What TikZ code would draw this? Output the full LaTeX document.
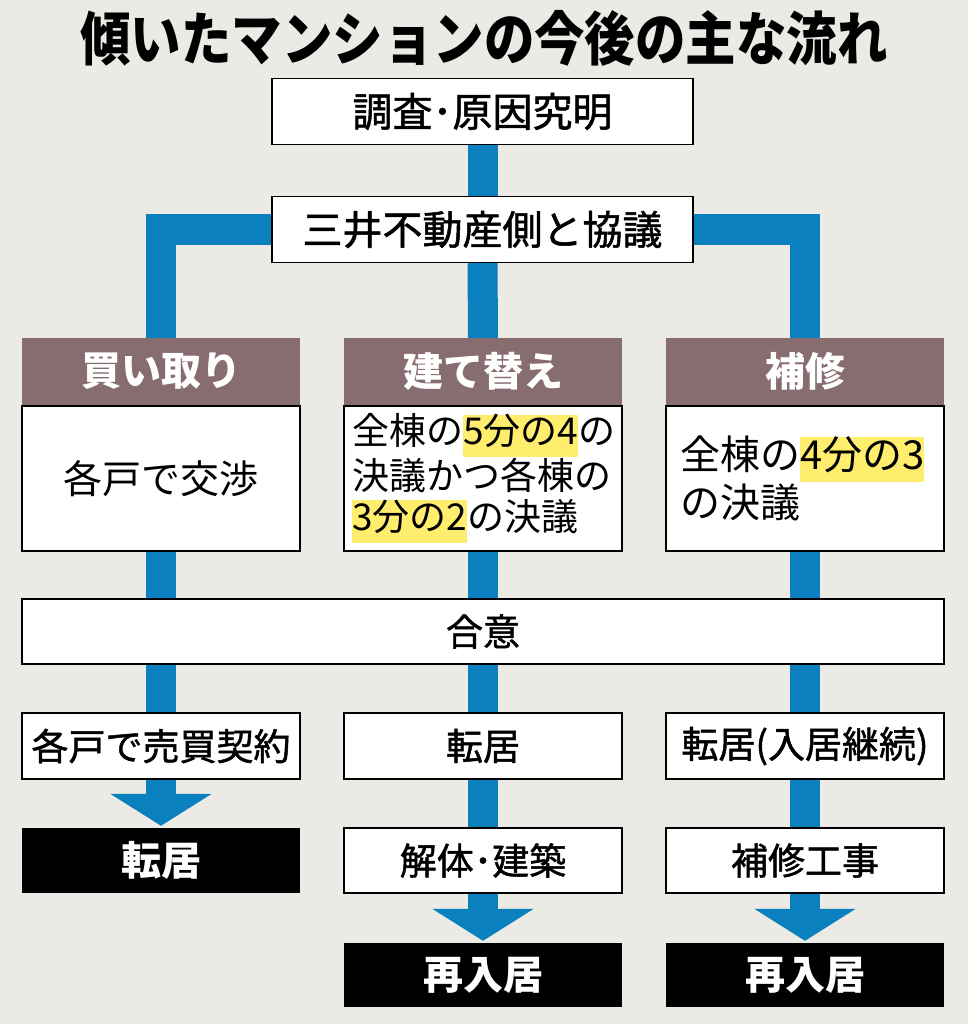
\documentclass[tikz,border=0pt]{standalone}
\usepackage{fontspec}
\setmainfont{Noto Sans CJK JP}
\newfontfamily\medfont[FakeBold=1.3]{Noto Sans CJK JP}
\usepackage{xcolor}
\usepackage{tikz}
\usetikzlibrary{arrows.meta,positioning,backgrounds}
\definecolor{bgbeige}{RGB}{236,234,228}
\definecolor{flowblue}{RGB}{10,128,190}
\definecolor{headbrown}{RGB}{135,108,112}
\definecolor{hlyellow}{RGB}{255,238,110}
\newcommand{\hlnum}[1]{{\setlength{\fboxsep}{0pt}\colorbox{hlyellow}{\strut #1}}}

\begin{document}
\begin{tikzpicture}[x=1pt,y=-1pt,
  flow/.style={draw=flowblue, line width=30pt},
  flowtip/.style={flow, -{Triangle[width=100pt,length=32pt]}, shorten >=2pt},
  plainbox/.style={draw=black, line width=1.4pt, fill=white, inner sep=0pt, minimum width=278pt, minimum height=66pt, font=\fontsize{37}{41}\selectfont\medfont},
  widebox/.style={plainbox, minimum width=421pt, font=\fontsize{40}{44}\selectfont\medfont},
  headbox/.style={fill=headbrown, text=white, inner sep=0pt, minimum width=278pt, minimum height=67pt, font=\fontsize{40}{44}\selectfont\bfseries},
  bodybox/.style={plainbox, minimum height=145pt},
  endbox/.style={fill=black, text=white, inner sep=0pt, minimum width=278pt, minimum height=65pt, font=\fontsize{40}{44}\selectfont\bfseries}]
\useasboundingbox (0,0) rectangle (968,1024);
% title
\node[font=\fontsize{58}{60}\selectfont\bfseries] (title) at (484,38) {\scalebox{0.87}[1]{傾いたマンションの今後の主な流れ}};
% top steps
\node[widebox] (survey) at (482.5,111.5) {調査･原因究明};
\node[widebox] (talk) at (482.5,229.5) {三井不動産側と協議};
% three options
\node[headbox] (buyh) at (161,371.5) {買い取り};
\node[headbox] (rebuildh) at (483,371.5) {建て替え};
\node[headbox] (repairh) at (805,371.5) {補修};
\node[bodybox, below=0pt of buyh, font=\fontsize{39}{43}\selectfont\normalfont] (buyb) {各戸で交渉};
\node[bodybox, below=0pt of rebuildh, text width=262pt, inner xsep=8pt, align=left, font=\normalfont\fontsize{37}{41}\selectfont] (rebuildb)
  {全棟の\hlnum{5分の4}の\\決議かつ各棟の\\\hlnum{3分の2}の決議};
\node[bodybox, below=0pt of repairh, text width=250pt, inner xsep=14pt, align=left, font=\normalfont\fontsize{40}{42}\selectfont] (repairb)
  {全棟の\hlnum{4分の3}\\の決議};
% agreement
\node[plainbox, minimum width=922pt, minimum height=65pt] (agree) at (483,631.5) {合意};
% after agreement
\node[plainbox] (sale) at (161,746) {各戸で売買契約};
\node[plainbox] (move2) at (483,746) {転居};
\node[plainbox] (stay) at (805,746) {転居(入居継続)};
\node[endbox] (move1) at (161,860.5) {転居};
\node[plainbox, minimum height=65pt] (demolish) at (483,860.5) {解体･建築};
\node[plainbox, minimum height=65pt] (works) at (805,860.5) {補修工事};
\node[endbox, minimum height=64pt] (back2) at (483,975) {再入居};
\node[endbox, minimum height=64pt] (back3) at (805,975) {再入居};
% blue connectors
\begin{scope}[on background layer]
\fill[bgbeige] (0,0) rectangle (968,1024);
\draw[flow] (survey) -- (talk);
\draw[flow] (talk.west) -| (buyh.north);
\draw[flow] (talk.east) -| (repairh.north);
\draw[flow] (talk) -- (rebuildh);
\draw[flow] (buyb.south) -- (buyb.south |- agree.north);
\draw[flow] (rebuildb.south) -- (rebuildb.south |- agree.north);
\draw[flow] (repairb.south) -- (repairb.south |- agree.north);
\draw[flow] (sale.north |- agree.south) -- (sale.north);
\draw[flow] (move2.north |- agree.south) -- (move2.north);
\draw[flow] (stay.north |- agree.south) -- (stay.north);
\draw[flowtip] (sale.south) -- (move1.north);
\draw[flow] (move2.south) -- (demolish.north);
\draw[flowtip] (demolish.south) -- (back2.north);
\draw[flow] (stay.south) -- (works.north);
\draw[flowtip] (works.south) -- (back3.north);
\end{scope}
\end{tikzpicture}
\end{document}
